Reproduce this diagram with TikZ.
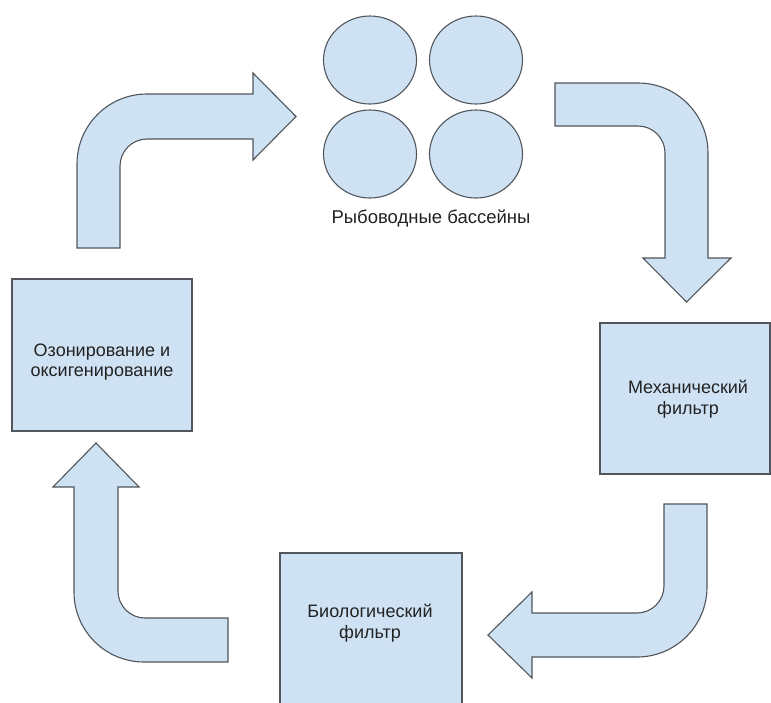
\documentclass[tikz,border=0pt]{standalone}
\usepackage{fontspec}
\setmainfont{Liberation Sans}
\usetikzlibrary{shapes.geometric}
\definecolor{boxfill}{HTML}{CFE2F3}
\definecolor{boxline}{HTML}{50565C}
\definecolor{txt}{HTML}{222222}
\tikzset{
  shapestyle/.style={fill=boxfill, draw=boxline, line width=1.1pt, line join=miter},
  block/.style={shapestyle, rectangle, inner sep=0pt},
  blocktext/.style={text=txt, align=center, inner sep=0pt,
    font=\fontsize{18}{20.5}\selectfont},
  pool/.style={shapestyle, ellipse, inner sep=0pt, minimum width=93pt, minimum height=88pt},
  blockarrow/.style={shapestyle},
  caption/.style={text=txt, font=\fontsize{18.5}{21}\selectfont, inner sep=0pt}
}
\begin{document}
\begin{tikzpicture}[x=1pt, y=-1pt]
\useasboundingbox (0,0) rectangle (771,702);
\fill[white] (0,0) rectangle (771,702);

% pools
\node[pool] (p1) at (370,60) {};
\node[pool] (p2) at (476,60) {};
\node[pool] (p3) at (370,154) {};
\node[pool] (p4) at (476,154) {};
\node[caption] (pools) at (431,218) {Рыбоводные бассейны};

% boxes
\node[block, minimum width=180pt, minimum height=152pt] (ozon) at (102,355) {};
\node[blocktext] (ozontext) at (102,362) {Озонирование и\\оксигенирование};
\node[block, minimum width=170pt, minimum height=151pt] (mech) at (685,398.5) {};
\node[blocktext] (mechtext) at (688,399) {Механический\\фильтр};
\node[block, minimum width=182pt, minimum height=156pt] (bio) at (371,631) {};
\node[blocktext] (biotext) at (370,623) {Биологический\\фильтр};

% arrow 1: up then right
\draw[blockarrow] (77,248) -- (77,164)
  .. controls (77,125.3) and (108.3,94) .. (147,94)
  -- (253,94) -- (253,73) -- (296,116.5) -- (253,160) -- (253,139) -- (147,139)
  .. controls (132.1,139) and (120,151.1) .. (120,166)
  -- (120,248) -- cycle;

% arrow 2: right then down
\draw[blockarrow] (555,83) -- (638,83)
  .. controls (676.7,83) and (708,114.3) .. (708,153)
  -- (708,258) -- (731,258) -- (686.5,302) -- (643,258) -- (665,258) -- (665,153)
  .. controls (665,138.1) and (652.9,126) .. (638,126)
  -- (555,126) -- cycle;

% arrow 3: down then left
\draw[blockarrow] (664,504) -- (707,504) -- (707,587)
  .. controls (707,625.7) and (675.7,657) .. (637,657)
  -- (532,657) -- (532,678) -- (488,635) -- (532,592) -- (532,613) -- (637,613)
  .. controls (651.9,613) and (664,600.9) .. (664,586)
  -- cycle;

% arrow 4: left then up
\draw[blockarrow] (228,618) -- (145,618)
  .. controls (130.1,618) and (118,605.9) .. (118,591)
  -- (118,487) -- (139,487) -- (96,443) -- (53,487) -- (74,487) -- (74,592)
  .. controls (74,630.7) and (105.3,662) .. (144,662)
  -- (228,662) -- cycle;
\end{tikzpicture}
\end{document}
